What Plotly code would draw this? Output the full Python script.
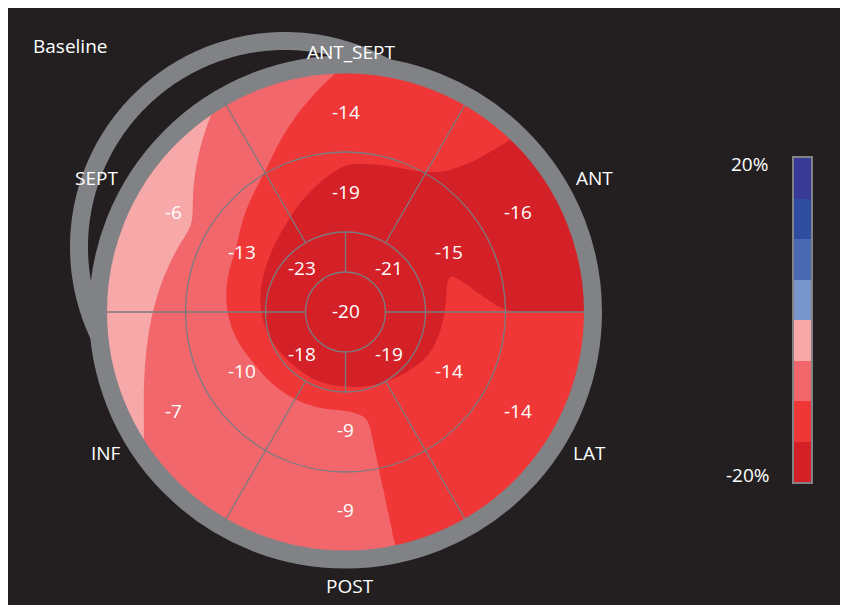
import numpy as np
import plotly.graph_objects as go

# ---------------- data ----------------
title_text = "Baseline"
apex_value = -20
apical_values = [-21, -23, -18, -19]          # apical segments, centred at 45,135,225,315 deg
mid_values = [-15, -19, -13, -10, -9, -14]    # mid segments, centred at 30,90,...,330 deg
basal_values = [-16, -14, -6, -7, -9, -14]    # basal segments, same centres
wall_names = ["ANT", "ANT_SEPT", "SEPT", "INF", "POST", "LAT"]
scale_min, scale_max, scale_step = -20, 20, 5
scale_labels = ["-20%", "20%"]
band_colors = ["#d42027", "#ef3737", "#f1676b", "#f7a8a9",
               "#7896cc", "#4a69b0", "#2e4d9f", "#383a96"]

# ---------------- geometry / style ----------------
BG = "#231f20"
GRAY = "#808285"
GRID = "#7a7c80"
FONT = "Open Sans"
FS = 19
R_RINGS = [40, 80, 160, 240]
apical_centres = [45, 135, 225, 315]
wall_centres = [30, 90, 150, 210, 270, 330]
anchor_r = [0, 60, 100, 160]     # radii where ring values are anchored for the smooth map
extrap = 0.55
label_r = [0, 61, 119, 199]      # radii of the value labels
# placement (radius, angle) of the wall names outside the ring
name_place = {"ANT": (282.8, 28.5), "ANT_SEPT": (261.0, 88.6), "SEPT": (282.8, 151.5),
              "INF": (277.4, 210.3), "POST": (273.0, 270.9), "LAT": (281.7, 330.2)}


def around(values, centres, theta):
    c = np.asarray(centres, float)
    v = np.asarray(values, float)
    xp = np.concatenate([c - 360, c, c + 360])
    fp = np.concatenate([v, v, v])
    return np.interp(theta, xp, fp)


def blur(Z, s):
    n = int(3 * s)
    t = np.arange(-n, n + 1)
    w = np.exp(-t ** 2 / (2.0 * s * s))
    w /= w.sum()
    Zp = np.pad(Z, n, mode="edge")
    Zp = np.apply_along_axis(lambda m: np.convolve(m, w, mode="valid"), 0, Zp)
    Zp = np.apply_along_axis(lambda m: np.convolve(m, w, mode="valid"), 1, Zp)
    return Zp


# smooth strain map derived from the segment values
g = np.arange(-250, 251, 2.0)
X, Y = np.meshgrid(g, g)
RR = np.hypot(X, Y)
TT = np.degrees(np.arctan2(Y, X)) % 360
a1 = around(apical_values, apical_centres, TT)
a2 = around(mid_values, wall_centres, TT)
a3 = around(basal_values, wall_centres, TT)
k0, k1, k2, k3 = anchor_r
F = np.where(RR <= k1, apex_value + (a1 - apex_value) * RR / k1,
    np.where(RR <= k2, a1 + (a2 - a1) * (RR - k1) / (k2 - k1),
    np.where(RR <= k3, a2 + (a3 - a2) * (RR - k2) / (k3 - k2),
             a3 + extrap * np.maximum(a3 - a2, 0) * (RR - k3) / (k3 - k2))))
F = np.round(blur(F, 4), 2)

n_bands = len(band_colors)
fig = go.Figure()
fig.add_trace(go.Contour(
    x=g, y=g, z=F,
    contours=dict(start=scale_min + scale_step, end=scale_max - scale_step,
                  size=scale_step, coloring="fill", showlines=False),
    colorscale=[[i / (n_bands - 1), c] for i, c in enumerate(band_colors)],
    line=dict(width=0, smoothing=1.3),
    showscale=False, hoverinfo="skip"))

# colour scale bar
edges = np.arange(scale_min, scale_max + scale_step, scale_step)
centres = (edges[:-1] + edges[1:]) / 2
cs = []
for i, c in enumerate(band_colors):
    cs.append([i / n_bands, c])
    cs.append([(i + 1) / n_bands, c])
fig.add_trace(go.Heatmap(x=[0], y=centres, z=[[c] for c in centres],
                         colorscale=cs, zmin=scale_min, zmax=scale_max,
                         showscale=False, xaxis="x2", yaxis="y2", hoverinfo="skip"))

shapes = []
# mask outside the disc (only over the area of the map)
R = R_RINGS[-1]
ang = np.linspace(0, -2 * np.pi, 361)
circ = " ".join(f"L {R*np.cos(t):.2f} {R*np.sin(t):.2f}" for t in ang[1:])
mask = (f"M -253 -253 L 253 -253 L 253 253 L -253 253 Z "
        f"M {R:.2f} 0 {circ} Z")
shapes.append(dict(type="path", path=mask, xref="x", yref="y",
                   fillcolor=BG, line=dict(width=0), layer="above"))

# offset (second) ring arc in the upper left
main_rc = 247.5
off_c = np.array([-60.5, 65.0])
off_rc = 206.0
d = np.hypot(*off_c)
u = -off_c / d
aa = (off_rc ** 2 - main_rc ** 2 + d ** 2) / (2 * d)
hh = np.sqrt(off_rc ** 2 - aa ** 2)
base = off_c + aa * u
perp = np.array([-u[1], u[0]])
p1 = base + hh * perp
p2 = base - hh * perp
t1 = np.degrees(np.arctan2(*(p1 - off_c)[::-1])) % 360
t2 = np.degrees(np.arctan2(*(p2 - off_c)[::-1])) % 360
lo, hi = min(t1, t2), max(t1, t2)
ts = np.radians(np.linspace(lo, hi, 200))
arc = "M " + " L ".join(f"{off_c[0]+off_rc*np.cos(t):.2f} {off_c[1]+off_rc*np.sin(t):.2f}" for t in ts)
shapes.append(dict(type="path", path=arc, xref="x", yref="y",
                   line=dict(color=GRAY, width=18), layer="above"))

# main outer ring
shapes.append(dict(type="circle", xref="x", yref="y",
                   x0=-main_rc, x1=main_rc, y0=-main_rc, y1=main_rc,
                   line=dict(color=GRAY, width=18), layer="above"))
# grid circles
for r in R_RINGS[:-1]:
    shapes.append(dict(type="circle", xref="x", yref="y", x0=-r, x1=r, y0=-r, y1=r,
                       line=dict(color=GRID, width=1.3), layer="above"))
# radial dividers
for a in [0, 90, 180, 270]:
    c, s = np.cos(np.radians(a)), np.sin(np.radians(a))
    shapes.append(dict(type="line", xref="x", yref="y",
                       x0=R_RINGS[0] * c, y0=R_RINGS[0] * s, x1=R_RINGS[1] * c, y1=R_RINGS[1] * s,
                       line=dict(color=GRID, width=1.3), layer="above"))
for a in [0, 60, 120, 180, 240, 300]:
    c, s = np.cos(np.radians(a)), np.sin(np.radians(a))
    shapes.append(dict(type="line", xref="x", yref="y",
                       x0=R_RINGS[1] * c, y0=R_RINGS[1] * s, x1=(R_RINGS[3] - 1) * c, y1=(R_RINGS[3] - 1) * s,
                       line=dict(color=GRID, width=1.3), layer="above"))

font = dict(family=FONT, size=FS, color="white")
annotations = [
    dict(text=title_text, xref="paper", yref="paper", x=(31 - 8) / 840, y=(605 - 46) / 597,
         xanchor="left", yanchor="middle", showarrow=False, font=font),
    dict(text=scale_labels[1], xref="x2", yref="y2", x=-0.5, y=scale_max,
         xanchor="right", yanchor="top", xshift=-24, yshift=9, showarrow=False, font=font),
    dict(text=scale_labels[0], xref="x2", yref="y2", x=-0.5, y=scale_min,
         xanchor="right", yanchor="bottom", xshift=-22, yshift=-8, showarrow=False, font=font),
]

# value labels
labels = [(0.0, 0.0, apex_value)]
for vals, cents, r in [(apical_values, apical_centres, label_r[1]),
                       (mid_values, wall_centres, label_r[2]),
                       (basal_values, wall_centres, label_r[3])]:
    for v, a in zip(vals, cents):
        labels.append((r * np.cos(np.radians(a)), r * np.sin(np.radians(a)), v))
for x, y, v in labels:
    annotations.append(dict(text=str(v), x=x, y=y, xref="x", yref="y", showarrow=False,
                            xanchor="center", yanchor="middle", yshift=1, font=font))

# wall names outside the ring
for nm in wall_names:
    r, a = name_place[nm]
    annotations.append(dict(text=nm, x=r * np.cos(np.radians(a)), y=r * np.sin(np.radians(a)) - 1,
                            xref="x", yref="y", showarrow=False,
                            xanchor="center", yanchor="middle", font=font))

fig.update_layout(
    width=840, height=597,
    margin=dict(l=0, r=0, t=0, b=0, pad=0),
    paper_bgcolor=BG, plot_bgcolor=BG,
    showlegend=False,
    xaxis=dict(range=[-337.5, 502.5], visible=False, domain=[0, 1]),
    yaxis=dict(range=[-293, 304], visible=False, domain=[0, 1]),
    xaxis2=dict(domain=[(794 - 8) / 840, (811 - 8) / 840], range=[-0.5, 0.5],
                anchor="y2", showticklabels=False, ticks="", showgrid=False, zeroline=False,
                showline=True, mirror=True, linecolor=GRAY, linewidth=1.5),
    yaxis2=dict(domain=[(605 - 482) / 597, (605 - 158) / 597], range=[scale_min, scale_max],
                anchor="x2", showticklabels=False, ticks="", showgrid=False, zeroline=False,
                showline=True, mirror=True, linecolor=GRAY, linewidth=1.5),
    shapes=shapes, annotations=annotations,
)

fig.write_html("out.html")
